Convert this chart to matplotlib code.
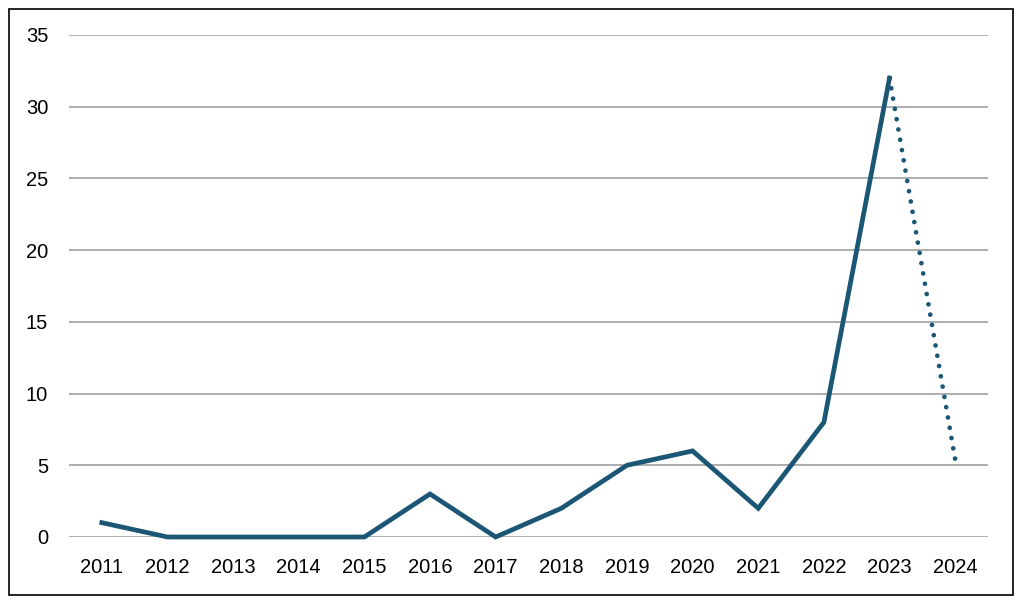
import matplotlib
matplotlib.use("Agg")
import matplotlib.pyplot as plt
from matplotlib.patches import Rectangle

years = ["2011", "2012", "2013", "2014", "2015", "2016", "2017",
         "2018", "2019", "2020", "2021", "2022", "2023", "2024"]
counts = [1, 0, 0, 0, 0, 3, 0, 2, 5, 6, 2, 8, 32]
projected = [32, 5.4]  # 2023 -> 2024 (partial year)

plt.rcParams['font.family'] = ['Liberation Sans', 'DejaVu Sans']
line_color = '#1b5674'

fig = plt.figure(figsize=(10.24, 6.05), dpi=100)
ax = fig.add_axes([69 / 1024, 68 / 605, 919 / 1024, 502 / 605])

x = list(range(len(years)))
ax.plot(x[:len(counts)], counts, color=line_color, linewidth=3.4,
        solid_joinstyle='miter', clip_on=False, zorder=3)
ax.plot(x[len(counts) - 1:], projected, color=line_color, linewidth=3.4,
        linestyle=(0, (0.01, 2.2)), dash_capstyle='round', clip_on=False, zorder=3)

ax.set_xlim(-0.5, len(years) - 0.5)
ax.set_ylim(0, 35)
ax.set_yticks(range(0, 36, 5))
ax.set_xticks(x)
ax.set_xticklabels(years)
ax.grid(axis='y', color='#9f9f9f', linewidth=1.2)
ax.set_axisbelow(True)
for s in ax.spines.values():
    s.set_visible(False)
ax.tick_params(axis='both', length=0, labelsize=14.5, colors='black')
ax.tick_params(axis='y', pad=15)
ax.tick_params(axis='x', pad=15)

# outer border
fig.patches.append(Rectangle((9 / 1024, 10 / 605), 1004 / 1024, 586 / 605,
                             transform=fig.transFigure, fill=False,
                             edgecolor='black', linewidth=1.2))

fig.savefig("out.png", dpi=100)
